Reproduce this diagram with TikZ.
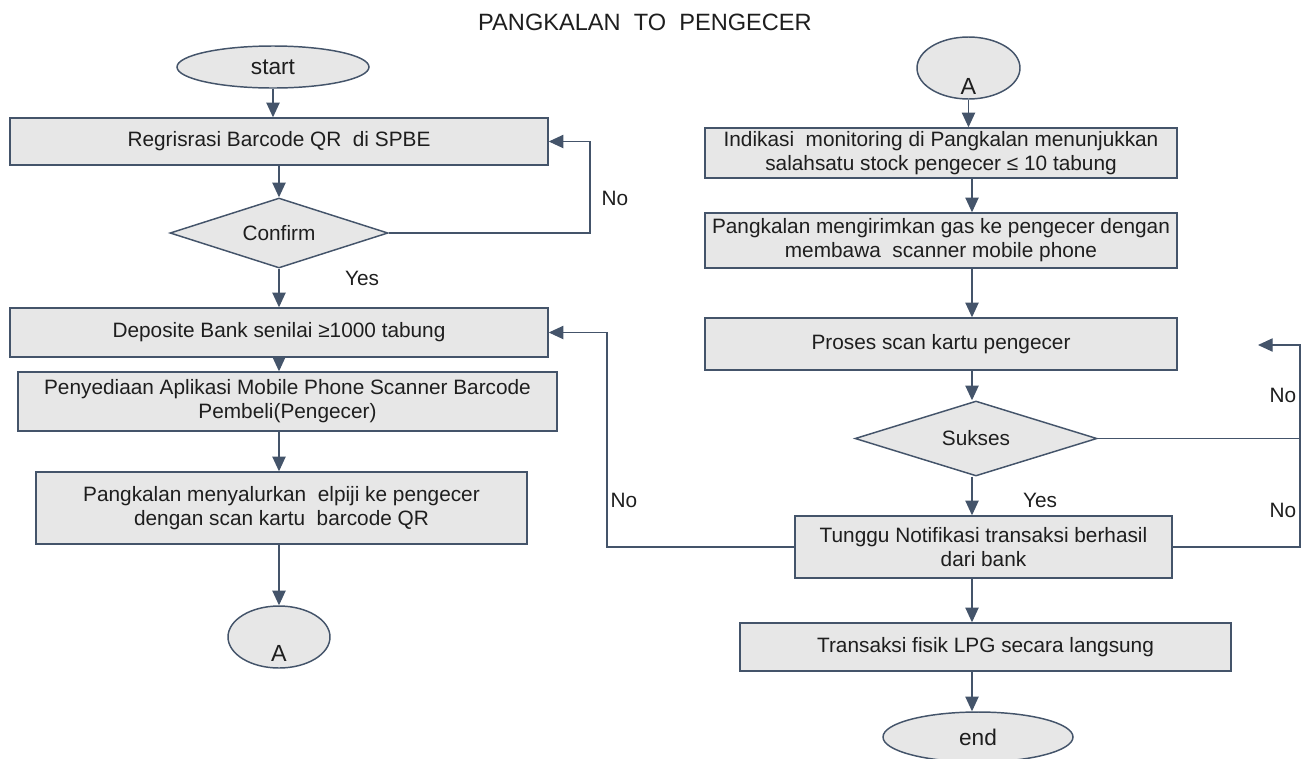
\documentclass[tikz,border=0pt]{standalone}
\usepackage{fontspec}
\setmainfont{Liberation Sans}
\usetikzlibrary{shapes.geometric,arrows.meta}

\definecolor{edgeblue}{HTML}{44546A}
\definecolor{boxfill}{HTML}{E7E7E7}
\definecolor{ink}{HTML}{1E1E1E}

\tikzset{
  shapebase/.style={draw=edgeblue, fill=boxfill, line width=1.1pt, text=ink,
    font=\fontsize{15.6}{18}\selectfont, align=center, inner sep=0pt},
  proc/.style={shapebase, rectangle},
  decide/.style={shapebase, diamond, aspect=3.1},
  term/.style={shapebase, ellipse, font=\fontsize{17}{20}\selectfont},
  flow/.style={draw=edgeblue, line width=0.9pt,
    -{Triangle[length=11pt,width=10pt]}},
  plain/.style={draw=edgeblue, line width=0.9pt},
  tag/.style={text=ink, font=\fontsize{15.6}{18}\selectfont, inner sep=0pt},
  bigtag/.style={tag, font=\fontsize{17.5}{20}\selectfont},
}

\begin{document}
\begin{tikzpicture}[x=0.75pt,y=-0.75pt]
\useasboundingbox (0,0) rectangle (1306,758);

% heading
\node[tag, font=\fontsize{17.7}{20}\selectfont] (title) at (645,22) {PANGKALAN\ \ TO\ \ PENGECER};

% ---------- left column ----------
\node[term, minimum width=144pt, minimum height=31.5pt] (start) at (273,67) {start};
\node[proc, minimum width=403.5pt, minimum height=35.25pt] (b1) at (279,141.5) {Regrisrasi Barcode QR\ \ di SPBE};
\node[decide, minimum width=163.5pt, minimum height=52.5pt] (conf) at (279,233) {Confirm};
\node[proc, minimum width=403.5pt, minimum height=36.75pt] (b2) at (279,332.5) {Deposite Bank senilai ≥1000 tabung};
\node[proc, minimum width=404.25pt, minimum height=44.25pt] (b3) at (287.5,401.5) {Penyediaan Aplikasi Mobile Phone Scanner Barcode\\Pembeli(Pengecer)};
\node[proc, minimum width=368.25pt, minimum height=54pt] (b4) at (281.5,508) {Pangkalan menyalurkan\ \ elpiji ke pengecer\\dengan scan kartu\ \ barcode QR};
\node[term, minimum width=76.5pt, minimum height=46.5pt] (aL) at (279,637) {};
\node[bigtag, anchor=base] (aLtext) at (279,661) {A};

\coordinate (colL) at (279,0);
\coordinate (loopL) at (590,0);
\coordinate (loopN) at (607,0);

\draw[flow] (start.south) -- (start.south |- b1.north);
\draw[flow] (b1.south -| colL) -- (conf.north);
\draw[flow] (conf.south) -- (b2.north -| colL);
\draw[flow] (b2.south -| colL) -- (b3.north -| colL);
\draw[flow] (b3.south -| colL) -- (b4.north -| colL);
\draw[flow] (b4.south -| colL) -- (aL.north);
\draw[flow] (conf.east) -- (conf.east -| loopL) |- (b1.east);

\node[tag] (noA) at (615,198) {No};
\node[tag] (yesA) at (362,278) {Yes};

% ---------- right column ----------
\node[term, minimum width=77.25pt, minimum height=46.5pt] (aR) at (968.5,68) {};
\node[bigtag, anchor=base] (aRtext) at (968.5,94) {A};
\node[proc, minimum width=354pt, minimum height=37.5pt] (r1) at (941,153) {Indikasi\ \ monitoring di Pangkalan menunjukkan\\salahsatu stock pengecer ≤ 10 tabung};
\node[proc, minimum width=354pt, minimum height=41.25pt] (r2) at (941,240.5) {Pangkalan mengirimkan gas ke pengecer dengan\\membawa\ \ scanner mobile phone};
\node[proc, minimum width=354pt, minimum height=39pt] (r3) at (941,344) {Proses scan kartu pengecer};
\node[decide, minimum width=181.5pt, minimum height=56.25pt] (suk) at (976,438.5) {Sukses};
\node[proc, minimum width=282.75pt, minimum height=46.5pt] (r4) at (983.5,547) {Tunggu Notifikasi transaksi berhasil\\dari bank};
\node[proc, minimum width=368.25pt, minimum height=36pt] (r5) at (985.5,647) {Transaksi fisik LPG secara langsung};
\node[term, minimum width=142.5pt, minimum height=37.5pt] (fin) at (978,737) {end};

\coordinate (colR) at (972,0);
\coordinate (loopR) at (1300,0);
\coordinate (retTip) at (1258,345);

\draw[flow] (aR.south) -- (aR.south |- r1.north);
\draw[flow] (r1.south -| colR) -- (r2.north -| colR);
\draw[flow] (r2.south -| colR) -- (r3.north -| colR);
\draw[flow] (r3.south -| colR) -- (suk.north -| colR);
\draw[flow] (suk.south -| colR) -- (r4.north -| colR);
\draw[flow] (r4.south -| colR) -- (r5.north -| colR);
\draw[flow] (r5.south -| colR) -- (fin.north -| colR);

\draw[plain] (suk.east) -- (suk.east -| loopR);
\draw[flow] (r4.east) -- (r4.east -| loopR) -- (retTip -| loopR) -- (retTip);
\draw[flow] (r4.west) -- (r4.west -| loopN) |- (b2.east);

\node[tag] (noB) at (1283,395) {No};
\node[tag] (noC) at (1283,510) {No};
\node[tag] (yesB) at (1040,500) {Yes};
\node[tag] (noD) at (624,500) {No};
\end{tikzpicture}
\end{document}
